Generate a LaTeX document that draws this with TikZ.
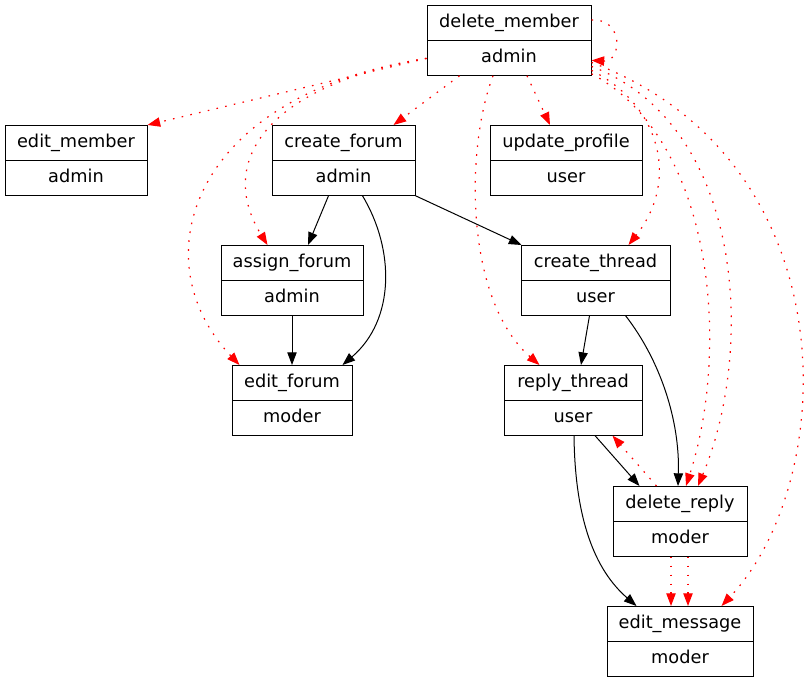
\documentclass[tikz,border=0pt]{standalone}
\usepackage{fontspec}
\setmainfont{DejaVu Sans}
\usepackage{tikz}
\usetikzlibrary{
arrows.meta,
shapes.multipart,
calc
}
\newcommand{\cellstrut}{\rule[-3.5pt]{0pt}{13.5pt}}
\newcommand{\perm}[2]{\cellstrut #1\nodepart{two}\cellstrut #2}

\begin{document}
\begin{tikzpicture}[
  x=0.75pt, y=-0.75pt,
  >={Triangle[length=9.5pt, width=7pt]},
  entry/.style={draw, line width=0.75pt, rectangle split, rectangle split parts=2, inner xsep=2pt, inner ysep=5.9pt, anchor=north, font=\fontsize{13.3}{16}\selectfont},
  dep/.style={->, line width=0.75pt},
  grant/.style={->, red, line width=0.9pt, dash pattern=on 1.2pt off 5.5pt}
]
\fill[white] (0,0) rectangle (811,683);
\useasboundingbox (0,0) rectangle (811,683);

% Top
\node[entry, minimum width=123pt] (dmember) at (509,5) {\perm{delete\_member}{admin}};

% Row 1
\node[entry, minimum width=106.5pt] (emember) at (76,125) {\perm{edit\_member}{admin}};
\node[entry, minimum width=107.25pt] (cforum) at (343.5,125) {\perm{create\_forum}{admin}};
\node[entry, minimum width=114pt] (uprofile) at (566,125) {\perm{update\_profile}{user}};

% Row 2
\node[entry, minimum width=106.5pt] (aforum) at (292,245) {\perm{assign\_forum}{admin}};
\node[entry, minimum width=111.75pt] (cthread) at (595.5,245) {\perm{create\_thread}{user}};

% Row 3
\node[entry, minimum width=90pt] (eforum) at (292,365) {\perm{edit\_forum}{moder}};
\node[entry, minimum width=103.5pt] (rthread) at (573,365) {\perm{reply\_thread}{user}};

% Bottom
\node[entry, minimum width=100.5pt] (dreply) at (680,486) {\perm{delete\_reply}{moder}};
\node[entry, minimum width=109.5pt] (emessage) at (680,606) {\perm{edit\_message}{moder}};

% Dependencies
\draw[dep] ($(cforum.south)+(-15,0)$) -- ($(aforum.north)+(16,0)$);
\draw[dep] ($(cforum.south)+(19,0)$) .. controls (395,250) and (395,320) .. ($(eforum.north east)+(-10,0)$);
\draw[dep] (cforum.south east) -- ($(cthread.north west)+(1,0)$);
\draw[dep] (aforum.south) -- (eforum.north);
\draw[dep] ($(cthread.south)+(-6,0)$) -- ($(rthread.north)+(8,0)$);
\draw[dep] ($(cthread.south)+(30,0)$) .. controls (660,360) and (680,420) .. ($(dreply.north)+(-2,0)$);
\draw[dep] ($(rthread.south)+(22,0)$) -- ($(dreply.north west)+(27,0)$);
\draw[dep] ($(rthread.south)+(1,0)$) .. controls (575,520) and (595,570) .. ($(emessage.north west)+(30,0)$);

% Grants from delete_member
\draw[grant] ($(dmember.north east)+(0,15)$) .. controls (624,18) and (622,62) .. ($(dmember.east)+(0,20)$);
\draw[grant] ($(dmember.west)+(0,18)$) -- (emember.north east);
\draw[grant] ($(dmember.south west)+(33,0)$) -- ($(cforum.north east)+(-22,0)$);
\draw[grant] ($(dmember.south)+(18,0)$) -- ($(uprofile.north)+(-16,0)$);
\draw[grant] ($(dmember.west)+(0,18)$) .. controls (270,85) and (215,160) .. ($(aforum.north west)+(47,0)$);
\draw[grant] ($(dmember.west)+(0,18)$) .. controls (190,95) and (140,260) .. ($(eforum.north west)+(8,0)$);
\draw[grant] ($(dmember.south)+(-16,0)$) .. controls (465,150) and (465,300) .. ($(rthread.north west)+(36,0)$);
\draw[grant] ($(dmember.east)+(0,30)$) .. controls (660,105) and (680,180) .. ($(cthread.north east)+(-42,0)$);
\draw[grant] ($(dmember.south east)+(0,-2)$) .. controls (715,140) and (730,350) .. ($(dreply.north)+(6,0)$);
\draw[grant] ($(dmember.east)+(0,26)$) .. controls (745,125) and (755,350) .. ($(dreply.north)+(18,0)$);
\draw[grant] ($(dmember.east)+(0,22)$) .. controls (850,160) and (840,480) .. ($(emessage.north east)+(-32,0)$);

% Grants from delete_reply
\draw[grant] ($(dreply.north west)+(44,0)$) -- ($(rthread.south east)+(-30,0)$);
\draw[grant] ($(dreply.south)+(-9,0)$) -- ($(emessage.north)+(-9,0)$);
\draw[grant] ($(dreply.south)+(8,0)$) -- ($(emessage.north)+(8,0)$);

\end{tikzpicture}
\end{document}
